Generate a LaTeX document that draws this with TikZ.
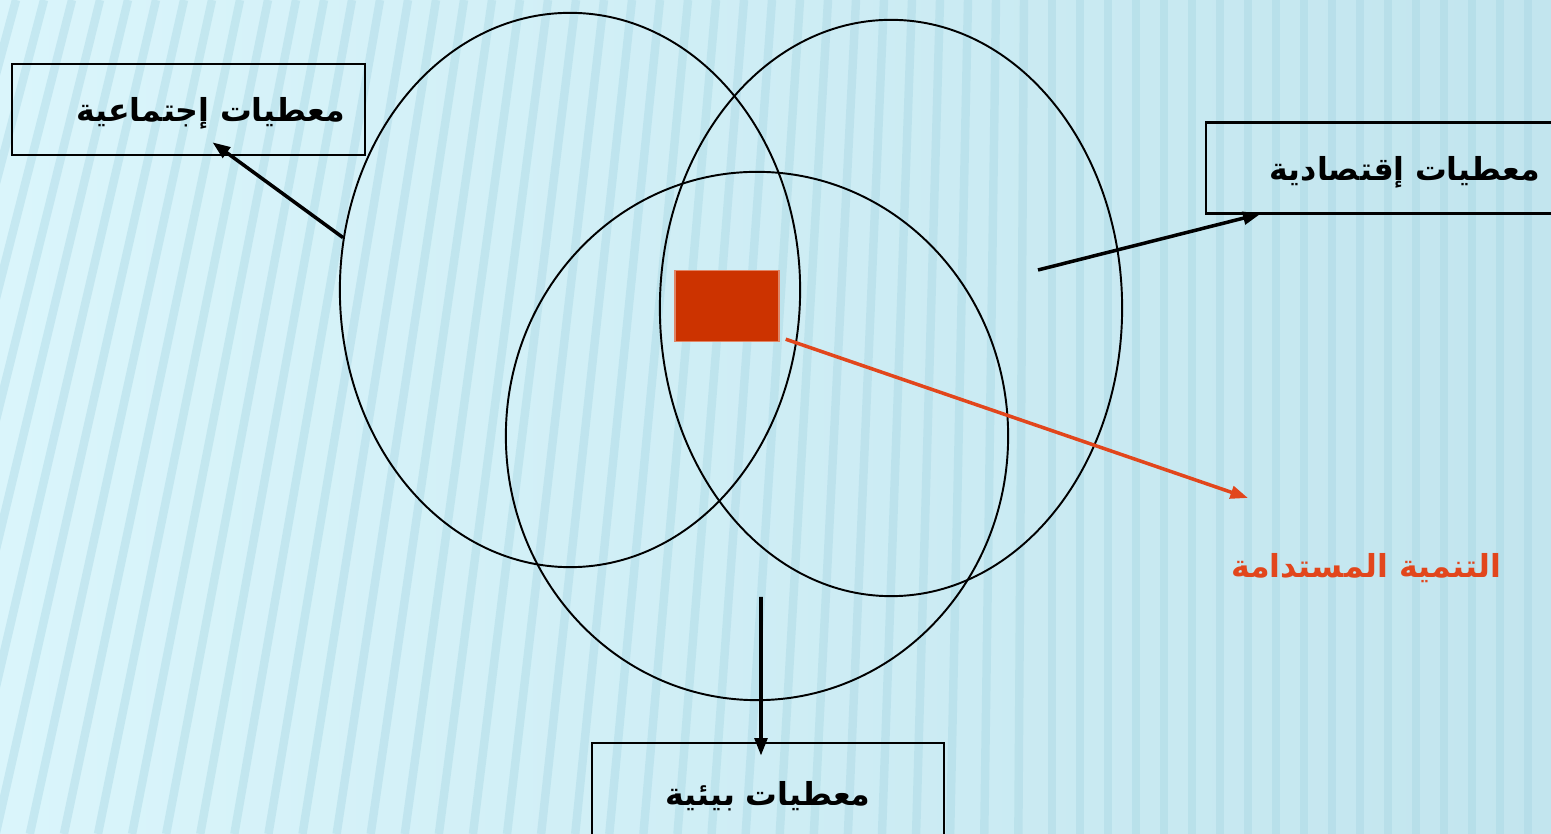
\documentclass[tikz,border=0pt]{standalone}
\usepackage{fontspec}
\usepackage{xcolor}
\usepackage{tikz}
\usetikzlibrary{arrows.meta, shapes.geometric, positioning}
\TeXXeTstate=1
\newfontfamily\arabicfont[Script=Arabic]{DejaVu Sans}
\definecolor{skylight}{HTML}{DAF5FB}
\definecolor{skydeep}{HTML}{C2E5EE}
\definecolor{skystripe}{HTML}{A3D4E1}
\definecolor{coreRed}{HTML}{CC3300}
\definecolor{labelRed}{HTML}{E2461C}
\tikzset{
  circ/.style={ellipse, draw=black, line width=0.55pt, inner sep=0pt},
  databox/.style={
    rectangle, draw=black, line width=0.75pt, minimum height=0.91cm,
    align=right, inner xsep=0.2cm, text height=7pt, text depth=0pt,
    font=\arabicfont\bfseries\fontsize{9}{11}\selectfont
  },
  link/.style={-{Triangle[length=5pt,width=3.6pt]}, line width=1pt, black},
  redlink/.style={-{Triangle[length=5pt,width=3.6pt]}, line width=1pt, labelRed},
  stripe/.style={line width=2.4pt, skystripe, opacity=0.38},
}

\begin{document}
\begin{tikzpicture}[x=0.01cm, y=-0.01cm]

  % --- Hintergrund ---
  \clip (0,0) rectangle (1551,834);
  \fill[left color=skylight, right color=skydeep] (0,0) rectangle (1551,834);
  \foreach \s in {-320,-292,...,1580}{
    \pgfmathsetmacro\lean{max(0,250*(1-(\s+100)/1150))}
    \draw[stripe] (\s,0) -- (\s-\lean,834);
  }

  % --- Kreise ---
  \node[circ, minimum width=4.60cm, minimum height=5.54cm] (social) at (570,290) {};
  \node[circ, minimum width=4.62cm, minimum height=5.76cm] (econ)   at (891,308) {};
  \node[circ, minimum width=5.02cm, minimum height=5.28cm] (env)    at (757,436) {};

  % --- Kern ---
  \node[fill=coreRed, draw=coreRed!60, minimum width=1.04cm, minimum height=0.71cm,
        inner sep=0pt] (core) at (727,306) {};

  % --- Kaesten ---
  \node[databox, text width=3.13cm] (socbox) at (188.5,109.5)
    {\beginR معطيات إجتماعية\endR};
  \node[databox, text width=3.04cm, inner xsep=0.3cm] (econbox) at (1388,168)
    {\beginR معطيات إقتصادية\endR};
  \node[databox, text width=3.12cm, align=center, minimum height=1.0cm] (envbox) at (768,793)
    {\beginR معطيات بيئية\endR};

  % --- Pfeile ---
  \coordinate (econstart) at (1038,270);
  \coordinate (envstart)  at (761,597);
  \coordinate (sdtip)     at (1248,498);
  \draw[link] (social.167) -- ([xshift=0.24cm, yshift=0.14cm]socbox.south);
  \draw[link] (econstart) -- ([xshift=0.56cm, yshift=0.01cm]econbox.south west);
  \draw[link] (envstart) -- ([xshift=-0.07cm, yshift=-0.14cm]envbox.north);
  \draw[redlink] ([xshift=0.06cm, yshift=0.03cm]core.south east) -- (sdtip);

  % --- Beschriftung ---
  \node[font=\arabicfont\bfseries\fontsize{9}{11}\selectfont, text=labelRed]
    (sdlabel) at (1366,568) {\beginR التنمية المستدامة\endR};

\end{tikzpicture}
\end{document}
